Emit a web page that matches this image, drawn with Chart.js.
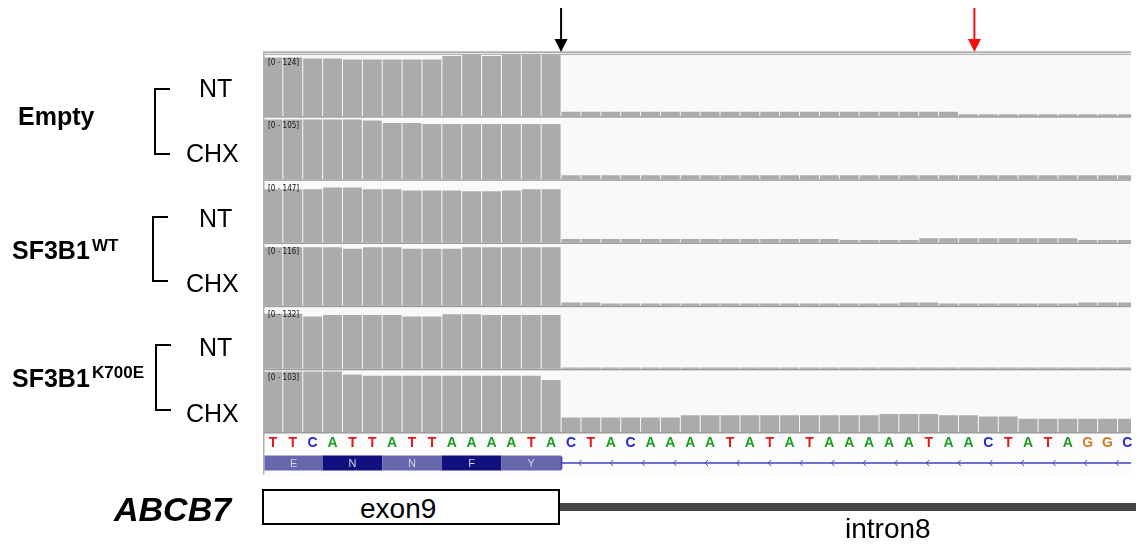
<!DOCTYPE html>
<html>
<head>
<meta charset="utf-8">
<script src="https://cdn.jsdelivr.net/npm/chart.js@4.4.1/dist/chart.umd.min.js"></script>
<style>
  body { margin: 0; background: #fff; }
  #wrap { position: relative; width: 1142px; height: 546px; overflow: hidden;
          font-family: 'Liberation Sans', Arial, sans-serif; color: #000; }
  #wrap canvas { position: absolute; left: 0; top: 0; }
  .lbl  { position: absolute; line-height: 1; white-space: nowrap; }
  .grp  { font-weight: bold; font-size: 25px; }
  .sup  { font-weight: bold; font-size: 17px; }
  .cond { font-size: 25px; }
  .brk  { position: absolute; box-sizing: border-box; width: 16px;
          border: 2.5px solid #000; border-right: none; }
  .gene { font-weight: bold; font-style: italic; font-size: 34px; }
  .part { font-size: 28px; }
  #exonBox { position: absolute; left: 262px; top: 489px; width: 298px; height: 36px;
             box-sizing: border-box; border: 2px solid #000; background: #fff; }
  #intronBar { position: absolute; left: 560px; top: 503px; width: 576px; height: 8px; background: #444; }
</style>
</head>
<body>
<div id="wrap">
  <canvas id="igv" width="1142" height="546"></canvas>

  <div class="lbl grp" style="left:18px; top:104px">Empty</div>
  <div class="lbl grp" style="left:12px; top:238px">SF3B1</div>
  <div class="lbl sup" style="left:92px; top:237px">WT</div>
  <div class="lbl grp" style="left:12px; top:366px">SF3B1</div>
  <div class="lbl sup" style="left:92px; top:364px">K700E</div>

  <div class="brk" style="left:154px; top:88px;  height:67px"></div>
  <div class="brk" style="left:152px; top:216px; height:66px"></div>
  <div class="brk" style="left:155px; top:344px; height:67px"></div>

  <div class="lbl cond" style="left:199px; top:76px">NT</div>
  <div class="lbl cond" style="left:186px; top:141px">CHX</div>
  <div class="lbl cond" style="left:199px; top:206px">NT</div>
  <div class="lbl cond" style="left:186px; top:271px">CHX</div>
  <div class="lbl cond" style="left:199px; top:335px">NT</div>
  <div class="lbl cond" style="left:186px; top:401px">CHX</div>

  <div class="lbl gene" style="left:114px; top:492px">ABCB7</div>
  <div id="exonBox"></div>
  <div class="lbl part" style="left:360px; top:495px">exon9</div>
  <div id="intronBar"></div>
  <div class="lbl part" style="left:845px; top:515px">intron8</div>
</div>

<script>
// reference sequence shown under the tracks (15 exon bases, then intron)
const bases = ['T','T','C','A','T','T','A','T','T','A','A','A','A','T','A',
               'C','T','A','C','A','A','A','A','T','A','T','A','T','A','A',
               'A','A','A','T','A','A','C','T','A','T','A','G','G','C']
const aminoAcids = ['E','N','N','F','Y']
const exonEnd    = 15
const redArrowAt = 35.8

const trackNames = ['Empty NT','Empty CHX','SF3B1 WT NT','SF3B1 WT CHX','SF3B1 K700E NT','SF3B1 K700E CHX']
const trackMax   = [124, 105, 147, 116, 132, 103]

const emptyNT = [118,118,116,116,114,114,114,114,114,121,124,121,124,124,124,
                 9,9,9,9,9,9,9,9,9,9,9,9,9,9,9,9,9,9,9,9,
                 4,4,4,4,4,4,4,4,4]
const emptyCHX = [102,102,102,102,102,100,96,96,94,94,94,94,94,94,94,
                  7,7,7,7,7,7,7,7,7,7,7,7,7,7,7,7,7,7,7,7,7,7,7,7,7,7,7,7,7]
const wtNT = [127,127,127,131,131,127,127,124,124,124,122,122,124,127,127,
              8,8,8,8,8,8,8,8,8,8,8,8,8,8,6,6,6,6,
              10,10,10,10,10,10,10,10,6,6,6]
const wtCHX = [110,110,110,110,107,110,110,107,107,107,110,110,110,110,110,
               6,6,4,4,4,4,4,4,4,4,4,4,4,4,4,4,4,6,6,
               4,4,4,4,4,4,4,6,6,6]
const k700eNT = [118,118,112,115,115,115,115,112,112,117,117,115,115,115,115,
                 3,3,3,3,3,3,3,3,3,3,3,3,3,3,3,3,3,3,3,3,3,3,3,3,3,3,3,3,3]
const k700eCHX = [101,101,101,101,96,94,94,94,94,94,94,94,94,94,87,
                  24,24,24,24,24,24,28,28,28,28,28,28,28,28,28,28,
                  30,30,30,28,28,26,26,22,22,22,22,22,22]

const coverage = [emptyNT, emptyCHX, wtNT, wtCHX, k700eNT, k700eCHX]

const baseColors = { A: '#1a9e1a', C: '#2525d8', G: '#d1781c', T: '#e01818' }

const datasets = coverage.map((vals, t) => ({
  label: trackNames[t],
  data: vals.map((v, i) => ({ x: i + 0.5, y: v })),
  xAxisID: 'x',
  yAxisID: 'y' + t,
  backgroundColor: '#ababab',
  borderWidth: 0,
  grouped: false,
  barPercentage: 0.95,
  categoryPercentage: 1,
}))

const scales = {
  x: { type: 'linear', min: 0, max: 43.68, offset: false, display: false }
}
// stacked left axes are laid out last-first, so add the bottom track first
for (let t = trackMax.length - 1; t >= 0; t--) {
  const m = trackMax[t]
  scales['y' + t] = {
    type: 'linear', position: 'left', stack: 'tracks', stackWeight: 1,
    min: -m * 0.025, max: m,
    ticks: { display: false }, grid: { display: false }, border: { display: false },
    afterFit: s => { s.width = 0 }
  }
}

const igvDecor = {
  id: 'igvDecor',
  beforeDatasetsDraw(chart) {
    const { ctx, chartArea: a } = chart
    ctx.save()
    ctx.fillStyle = '#f9f9f9'
    ctx.fillRect(a.left, a.top, a.right - a.left, a.bottom - a.top)
    ctx.fillStyle = '#fcfcfc'
    ctx.fillRect(a.left, a.bottom, a.right - a.left, 43)
    ctx.restore()
  },
  afterDatasetsDraw(chart) {
    const { ctx, chartArea: a } = chart
    const xs = chart.scales.x
    ctx.save()

    // track separators + data range labels
    trackMax.forEach((m, t) => {
      const ys = chart.scales['y' + t]
      ctx.fillStyle = '#9c9c9c'
      ctx.fillRect(a.left, ys.bottom - 1.5, a.right - a.left, 1.5)
      ctx.fillStyle = '#111'
      ctx.font = '8px "DejaVu Sans Condensed", "DejaVu Sans", sans-serif'
      ctx.textBaseline = 'top'
      ctx.textAlign = 'left'
      ctx.fillText('[0 - ' + m + ']', a.left + 5, ys.top + 4)
    })

    // top double rule and left border
    ctx.fillStyle = '#8a8a8a'
    ctx.fillRect(a.left, a.top - 3, a.right - a.left, 1.2)
    ctx.fillStyle = '#a8a8a8'
    ctx.fillRect(a.left, a.top - 0.8, a.right - a.left, 1.2)
    ctx.fillStyle = '#b0b0b0'
    ctx.fillRect(a.left, a.top - 2, 1.5, 43 + a.bottom - a.top)

    // sequence
    ctx.font = 'bold 14px "Liberation Sans", Arial, sans-serif'
    ctx.textAlign = 'center'
    ctx.textBaseline = 'middle'
    bases.forEach((b, i) => {
      const px = xs.getPixelForValue(i + 0.5)
      if (px > a.right) return
      ctx.fillStyle = baseColors[b]
      ctx.fillText(b, px, a.bottom + 10)
    })

    // gene track: exon codons then intron line
    const gTop = a.bottom + 22, gH = 15
    ctx.font = '11px "Liberation Sans", Arial, sans-serif'
    aminoAcids.forEach((aa, k) => {
      const x0 = Math.max(xs.getPixelForValue(3 * k), a.left + 1.5)
      const x1 = xs.getPixelForValue(3 * k + 3)
      ctx.fillStyle = k % 2 ? '#10107e' : '#6767ad'
      ctx.fillRect(x0, gTop, x1 - x0, gH)
      ctx.fillStyle = '#d4d4e6'
      ctx.fillText(aa, (x0 + x1) / 2, gTop + gH / 2 + 0.5)
    })
    const ix = xs.getPixelForValue(exonEnd)
    const iy = gTop + gH / 2
    ctx.strokeStyle = '#4040c4'
    ctx.lineWidth = 1.5
    ctx.beginPath()
    ctx.moveTo(ix, iy); ctx.lineTo(a.right, iy)
    ctx.moveTo(ix + 0.5, gTop + 1); ctx.lineTo(ix + 0.5, gTop + gH - 1)
    ctx.stroke()
    ctx.lineWidth = 1
    for (let cx = ix + 18.5; cx < a.right; cx += 31.6) {
      ctx.beginPath()
      ctx.moveTo(cx + 2, iy - 3); ctx.lineTo(cx - 1, iy); ctx.lineTo(cx + 2, iy + 3)
      ctx.stroke()
    }

    // arrows marking the splice junction and the cryptic site
    const arrow = (val, color) => {
      const px = xs.getPixelForValue(val)
      ctx.strokeStyle = color
      ctx.fillStyle = color
      ctx.lineWidth = 2
      ctx.beginPath(); ctx.moveTo(px, 8); ctx.lineTo(px, 42); ctx.stroke()
      ctx.beginPath()
      ctx.moveTo(px - 6.5, 39); ctx.lineTo(px + 6.5, 39); ctx.lineTo(px, 52)
      ctx.closePath(); ctx.fill()
    }
    arrow(exonEnd, '#000')
    arrow(redArrowAt, '#f01010')

    ctx.restore()
  }
}

new Chart(document.getElementById('igv'), {
  type: 'bar',
  data: { datasets },
  options: {
    responsive: false,
    animation: false,
    layout: { padding: { left: 263, right: 11, top: 54.5, bottom: 112.5 } },
    scales,
    plugins: { legend: { display: false }, tooltip: { enabled: false } }
  },
  plugins: [igvDecor]
})
</script>
</body>
</html>
